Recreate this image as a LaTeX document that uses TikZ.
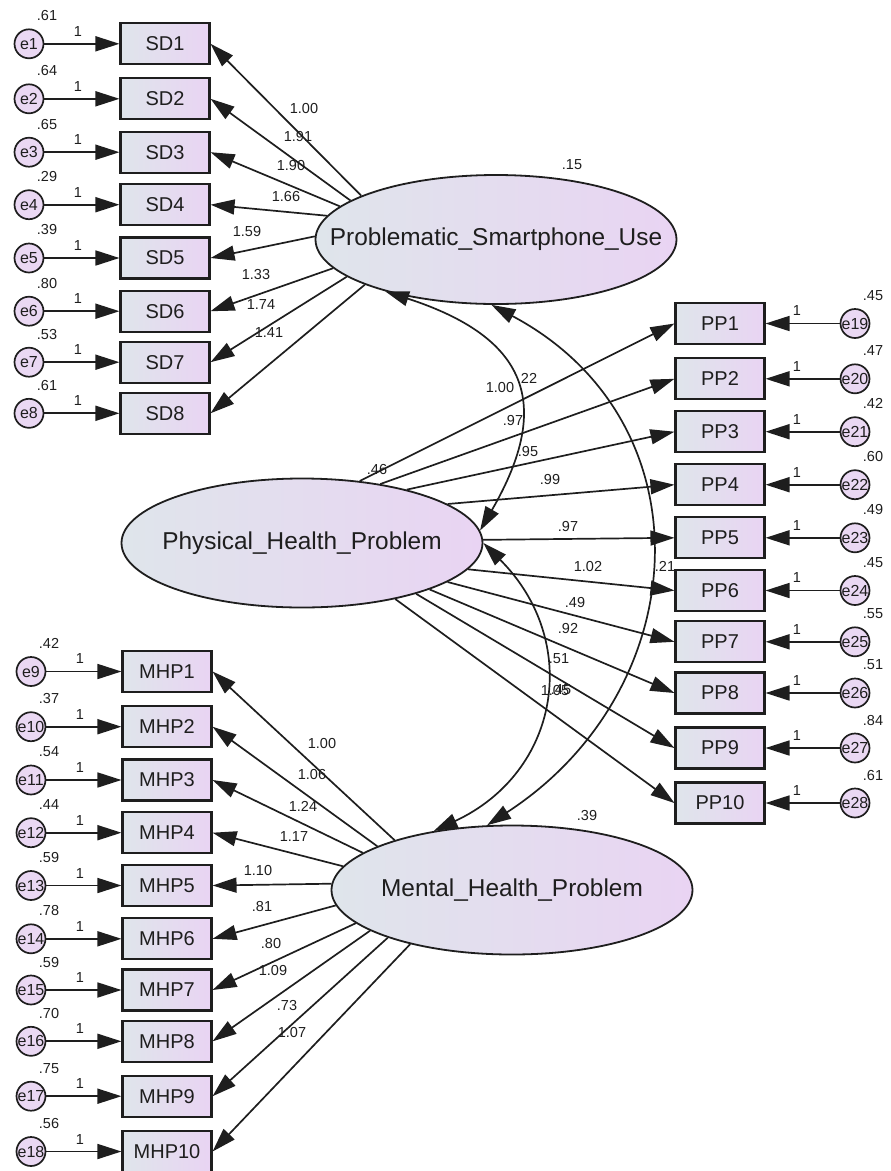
\documentclass[tikz,border=0pt]{standalone}
\usepackage{fontspec}
\setmainfont{Liberation Sans}
\usepackage{tikz}
\usetikzlibrary{arrows.meta,shapes.geometric}
\definecolor{ink}{RGB}{30,30,30}
\definecolor{shadeL}{RGB}{223,229,235}
\definecolor{shadeR}{RGB}{233,212,243}
\definecolor{errfill}{RGB}{234,216,243}

\begin{document}
\begin{tikzpicture}[x=1pt,y=-1pt,line width=1.7pt,
  obs/.style={draw=ink,line width=2.1pt,left color=shadeL,right color=shadeR,minimum width=89pt,minimum height=41pt,inner sep=0pt,text=ink,font=\fontsize{20}{24}\selectfont},
  lat/.style={ellipse,draw=ink,line width=1.8pt,left color=shadeL,right color=shadeR,minimum width=361pt,minimum height=129pt,inner sep=0pt,text=ink,font=\fontsize{24.4}{28}\selectfont},
  err/.style={circle,draw=ink,line width=1.7pt,fill=errfill,minimum size=29pt,inner sep=0pt,text=ink,font=\fontsize{16}{18}\selectfont},
  val/.style={inner sep=0pt,text=ink,font=\fontsize{14.5}{17}\selectfont},
  load/.style={draw=ink,-{Triangle[length=24pt,width=15pt]}},
  cov/.style={draw=ink,{Triangle[length=24pt,width=15pt]}-{Triangle[length=24pt,width=15pt]}}]
\useasboundingbox (0,0) rectangle (891,1171);

\node[lat] (smart) at (496,239.5) {\makebox[0pt]{Problematic\_Smartphone\_Use}};
\node[lat] (phys) at (302,543) {\makebox[0pt]{Physical\_Health\_Problem}};
\node[lat] (ment) at (512,890) {\makebox[0pt]{Mental\_Health\_Problem}};

\node[obs] (sd1) at (165,43.8) {SD1};
\node[obs] (sd2) at (165,98.8) {SD2};
\node[obs] (sd3) at (165,152.2) {SD3};
\node[obs] (sd4) at (165,204.7) {SD4};
\node[obs] (sd5) at (165,258) {SD5};
\node[obs] (sd6) at (165,311.2) {SD6};
\node[obs] (sd7) at (165,362.2) {SD7};
\node[obs] (sd8) at (165,413.3) {SD8};

\node[obs] (mhp1) at (167,671.5) {MHP1};
\node[obs] (mhp2) at (167,726.7) {MHP2};
\node[obs] (mhp3) at (167,780) {MHP3};
\node[obs] (mhp4) at (167,832.7) {MHP4};
\node[obs] (mhp5) at (167,885.5) {MHP5};
\node[obs] (mhp6) at (167,938.8) {MHP6};
\node[obs] (mhp7) at (167,990) {MHP7};
\node[obs] (mhp8) at (167,1041.3) {MHP8};
\node[obs] (mhp9) at (167,1096.2) {MHP9};
\node[obs] (mhp10) at (167,1151.5) {MHP10};

\node[obs] (pp1) at (720,323.5) {PP1};
\node[obs] (pp2) at (720,378.8) {PP2};
\node[obs] (pp3) at (720,431.7) {PP3};
\node[obs] (pp4) at (720,484.7) {PP4};
\node[obs] (pp5) at (720,537.8) {PP5};
\node[obs] (pp6) at (720,590.5) {PP6};
\node[obs] (pp7) at (720,641.8) {PP7};
\node[obs] (pp8) at (720,693) {PP8};
\node[obs] (pp9) at (720,748) {PP9};
\node[obs] (pp10) at (720,803) {PP10};

\node[err] (e1) at (29,43.8) {e1};
\node[err] (e2) at (29,98.8) {e2};
\node[err] (e3) at (29,152.2) {e3};
\node[err] (e4) at (29,204.7) {e4};
\node[err] (e5) at (29,258) {e5};
\node[err] (e6) at (29,311.2) {e6};
\node[err] (e7) at (29,362.2) {e7};
\node[err] (e8) at (29,413.3) {e8};
\node[err] (e9) at (31,671.5) {e9};
\node[err] (e10) at (31,726.7) {e10};
\node[err] (e11) at (31,780) {e11};
\node[err] (e12) at (31,832.7) {e12};
\node[err] (e13) at (31,885.5) {e13};
\node[err] (e14) at (31,938.8) {e14};
\node[err] (e15) at (31,990) {e15};
\node[err] (e16) at (31,1041.3) {e16};
\node[err] (e17) at (31,1096.2) {e17};
\node[err] (e18) at (31,1151.5) {e18};
\node[err] (e19) at (855,323.5) {e19};
\node[err] (e20) at (855,378.8) {e20};
\node[err] (e21) at (855,431.7) {e21};
\node[err] (e22) at (855,484.7) {e22};
\node[err] (e23) at (855,537.8) {e23};
\node[err] (e24) at (855,590.5) {e24};
\node[err] (e25) at (855,641.8) {e25};
\node[err] (e26) at (855,693) {e26};
\node[err] (e27) at (855,748) {e27};
\node[err] (e28) at (855,803) {e28};

\draw[load] (e1) -- (sd1);
\draw[load] (e2) -- (sd2);
\draw[load] (e3) -- (sd3);
\draw[load] (e4) -- (sd4);
\draw[load] (e5) -- (sd5);
\draw[load] (e6) -- (sd6);
\draw[load] (e7) -- (sd7);
\draw[load] (e8) -- (sd8);
\draw[load] (e9) -- (mhp1);
\draw[load] (e10) -- (mhp2);
\draw[load] (e11) -- (mhp3);
\draw[load] (e12) -- (mhp4);
\draw[load] (e13) -- (mhp5);
\draw[load] (e14) -- (mhp6);
\draw[load] (e15) -- (mhp7);
\draw[load] (e16) -- (mhp8);
\draw[load] (e17) -- (mhp9);
\draw[load] (e18) -- (mhp10);
\draw[load] (e19) -- (pp1);
\draw[load] (e20) -- (pp2);
\draw[load] (e21) -- (pp3);
\draw[load] (e22) -- (pp4);
\draw[load] (e23) -- (pp5);
\draw[load] (e24) -- (pp6);
\draw[load] (e25) -- (pp7);
\draw[load] (e26) -- (pp8);
\draw[load] (e27) -- (pp9);
\draw[load] (e28) -- (pp10);

\draw[load] (smart.162) -- (sd1.east);
\draw[load] (smart.165) -- (sd2.east);
\draw[load] (smart.168) -- (sd3.east);
\draw[load] (smart.172) -- (sd4.east);
\draw[load] (smart.179) -- (sd5.east);
\draw[load] (smart.190) -- (sd6.east);
\draw[load] (smart.194) -- (sd7.east);
\draw[load] (smart.199) -- (sd8.east);

\draw[load] (phys.47) -- (pp1.west);
\draw[load] (phys.37) -- (pp2.west);
\draw[load] (phys.27) -- (pp3.west);
\draw[load] (phys.15) -- (pp4.west);
\draw[load] (phys.1) -- (pp5.west);
\draw[load] (phys.-9) -- (pp6.west);
\draw[load] (phys.-15) -- (pp7.west);
\draw[load] (phys.-20) -- (pp8.west);
\draw[load] (phys.-24) -- (pp9.west);
\draw[load] (phys.-31) -- (pp10.west);

\draw[load] (ment.157) -- (mhp1.east);
\draw[load] (ment.162) -- (mhp2.east);
\draw[load] (ment.166) -- (mhp3.east);
\draw[load] (ment.172) -- (mhp4.east);
\draw[load] (ment.178) -- (mhp5.east);
\draw[load] (ment.185) -- (mhp6.east);
\draw[load] (ment.192) -- (mhp7.east);
\draw[load] (ment.196) -- (mhp8.east);
\draw[load] (ment.201) -- (mhp9.east);
\draw[load] (ment.208) -- (mhp10.east);

\draw[cov] (smart.205) to[out=-18,in=60,looseness=1.47] (phys.4);
\draw[cov] (smart.266) to[out=-28,in=33,looseness=1.22] (ment.111);
\draw[cov] (phys.0) to[out=-45,in=25,looseness=1.22] (ment.143);

\node[val] (v-smart) at (572,165) {.15};
\node[val] (v-phys) at (377,469) {.46};
\node[val] (v-ment) at (587,815) {.39};

\node[val] (v-e1) at (47,15.8) {.61};
\node[val] (v-e2) at (47,70.8) {.64};
\node[val] (v-e3) at (47,124.2) {.65};
\node[val] (v-e4) at (47,176.7) {.29};
\node[val] (v-e5) at (47,230) {.39};
\node[val] (v-e6) at (47,283.2) {.80};
\node[val] (v-e7) at (47,334.2) {.53};
\node[val] (v-e8) at (47,385.3) {.61};
\node[val] (v-e9) at (49,643.5) {.42};
\node[val] (v-e10) at (49,698.7) {.37};
\node[val] (v-e11) at (49,752) {.54};
\node[val] (v-e12) at (49,804.7) {.44};
\node[val] (v-e13) at (49,857.5) {.59};
\node[val] (v-e14) at (49,910.8) {.78};
\node[val] (v-e15) at (49,962) {.59};
\node[val] (v-e16) at (49,1013.3) {.70};
\node[val] (v-e17) at (49,1068.2) {.75};
\node[val] (v-e18) at (49,1123.5) {.56};
\node[val] (v-e19) at (873,295.5) {.45};
\node[val] (v-e20) at (873,350.8) {.47};
\node[val] (v-e21) at (873,403.7) {.42};
\node[val] (v-e22) at (873,456.7) {.60};
\node[val] (v-e23) at (873,509.8) {.49};
\node[val] (v-e24) at (873,562.5) {.45};
\node[val] (v-e25) at (873,613.8) {.55};
\node[val] (v-e26) at (873,665) {.51};
\node[val] (v-e27) at (873,720) {.84};
\node[val] (v-e28) at (873,775) {.61};

\node[val] (f-e1) at (78,31.3) {1};
\node[val] (f-e2) at (78,86.3) {1};
\node[val] (f-e3) at (78,139.7) {1};
\node[val] (f-e4) at (78,192.2) {1};
\node[val] (f-e5) at (78,245.5) {1};
\node[val] (f-e6) at (78,298.7) {1};
\node[val] (f-e7) at (78,349.7) {1};
\node[val] (f-e8) at (78,400.8) {1};
\node[val] (f-e9) at (80,659) {1};
\node[val] (f-e10) at (80,714.2) {1};
\node[val] (f-e11) at (80,767.5) {1};
\node[val] (f-e12) at (80,820.2) {1};
\node[val] (f-e13) at (80,873) {1};
\node[val] (f-e14) at (80,926.3) {1};
\node[val] (f-e15) at (80,977.5) {1};
\node[val] (f-e16) at (80,1028.8) {1};
\node[val] (f-e17) at (80,1083.7) {1};
\node[val] (f-e18) at (80,1139) {1};
\node[val] (f-e19) at (797,311) {1};
\node[val] (f-e20) at (797,366.3) {1};
\node[val] (f-e21) at (797,419.2) {1};
\node[val] (f-e22) at (797,472.2) {1};
\node[val] (f-e23) at (797,525.3) {1};
\node[val] (f-e24) at (797,578) {1};
\node[val] (f-e25) at (797,629.3) {1};
\node[val] (f-e26) at (797,680.5) {1};
\node[val] (f-e27) at (797,735.5) {1};
\node[val] (f-e28) at (797,790.5) {1};

\node[val] (w-sd1) at (304,109) {1.00};
\node[val] (w-sd2) at (298,137) {1.91};
\node[val] (w-sd3) at (291,166) {1.90};
\node[val] (w-sd4) at (286,197) {1.66};
\node[val] (w-sd5) at (247,232) {1.59};
\node[val] (w-sd6) at (256,275) {1.33};
\node[val] (w-sd7) at (261,305) {1.74};
\node[val] (w-sd8) at (269,333) {1.41};

\node[val] (w-pp1) at (500,388) {1.00};
\node[val] (w-pp2) at (513,420) {.97};
\node[val] (w-pp3) at (528,451) {.95};
\node[val] (w-pp4) at (550,479) {.99};
\node[val] (w-pp5) at (568,526) {.97};
\node[val] (w-pp6) at (588,566) {1.02};
\node[val] (w-pp7) at (575,602) {.49};
\node[val] (w-pp8) at (568,628) {.92};
\node[val] (w-pp9) at (559,659) {.51};
\node[val] (w-pp10) at (555,690) {1.05};

\node[val] (w-mhp1) at (322,743) {1.00};
\node[val] (w-mhp2) at (312,774) {1.06};
\node[val] (w-mhp3) at (303,806) {1.24};
\node[val] (w-mhp4) at (294,836) {1.17};
\node[val] (w-mhp5) at (258,870) {1.10};
\node[val] (w-mhp6) at (262,906) {.81};
\node[val] (w-mhp7) at (271,943) {.80};
\node[val] (w-mhp8) at (273,970) {1.09};
\node[val] (w-mhp9) at (287,1005) {.73};
\node[val] (w-mhp10) at (292,1032) {1.07};

\node[val] (c-smart-phys) at (527,378) {.22};
\node[val] (c-smart-ment) at (665,566) {.21};
\node[val] (c-phys-ment) at (561,690) {.45};
\end{tikzpicture}
\end{document}
